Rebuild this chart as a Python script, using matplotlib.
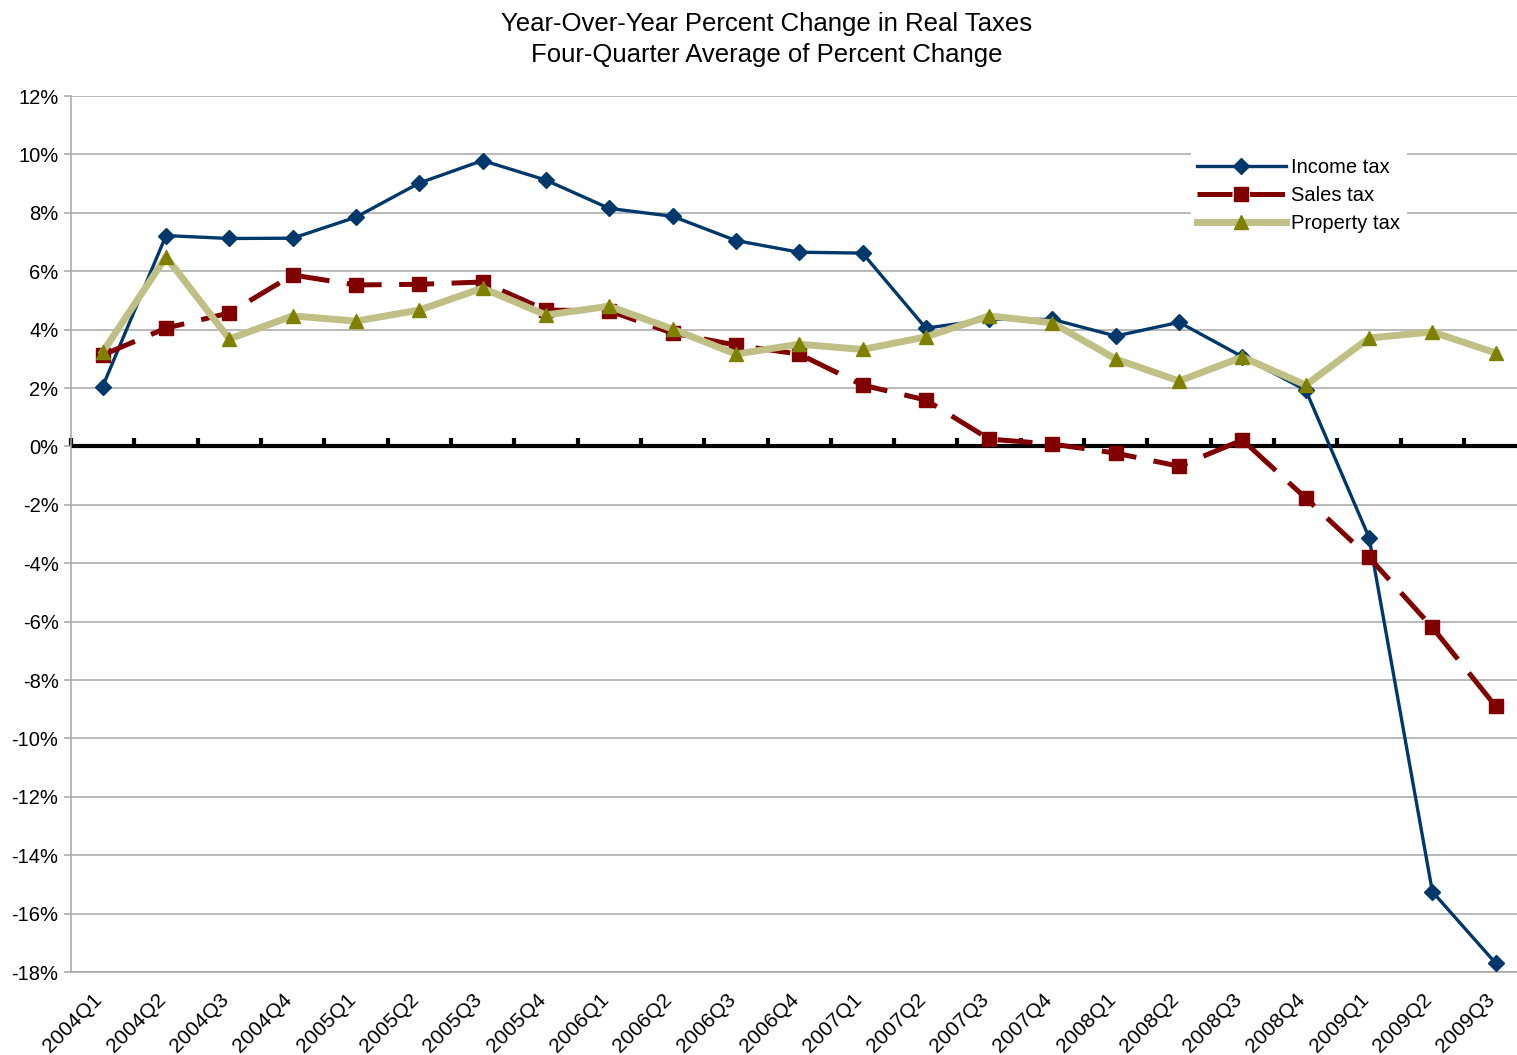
import numpy as np
import matplotlib.pyplot as plt
import matplotlib.transforms as mtransforms

plt.rcParams['font.family'] = ['Liberation Sans', 'DejaVu Sans']

# === DATA (percent) ===
quarters = ["2004Q1", "2004Q2", "2004Q3", "2004Q4",
            "2005Q1", "2005Q2", "2005Q3", "2005Q4",
            "2006Q1", "2006Q2", "2006Q3", "2006Q4",
            "2007Q1", "2007Q2", "2007Q3", "2007Q4",
            "2008Q1", "2008Q2", "2008Q3", "2008Q4",
            "2009Q1", "2009Q2", "2009Q3"]
income_tax = [2.05, 7.22, 7.12, 7.13, 7.85, 9.02, 9.79, 9.12, 8.15, 7.88, 7.05, 6.65,
              6.62, 4.05, 4.35, 4.35, 3.78, 4.25, 3.07, 1.93, -3.12, -15.25, -17.7]
sales_tax = [3.13, 4.05, 4.57, 5.87, 5.53, 5.55, 5.63, 4.67, 4.64, 3.88, 3.47, 3.16,
             2.1, 1.59, 0.25, 0.08, -0.23, -0.68, 0.22, -1.77, -3.8, -6.2, -8.9]
property_tax = [3.23, 6.49, 3.68, 4.47, 4.29, 4.67, 5.42, 4.5, 4.8, 4.02, 3.16, 3.5,
                3.32, 3.75, 4.47, 4.23, 2.99, 2.24, 3.06, 2.1, 3.71, 3.92, 3.2]

x = np.arange(len(quarters))

# === FIGURE ===
W, H = 1517, 1055
fig = plt.figure(figsize=(W / 100, H / 100), dpi=100)
ax = fig.add_axes([71 / W, 1 - 972 / H, 1 - 71 / W, (972 - 96) / H])

ax.plot(x, income_tax, color="#00386B", linewidth=2.4, marker="D", markersize=8,
        label="Income tax", zorder=3)
ax.plot(x, sales_tax, color="#800000", linewidth=3.6, dashes=(7, 3.5), marker="s",
        markersize=9.5, label="Sales tax", zorder=4)
ax.plot(x, property_tax, color="#C0C086", linewidth=5, marker="^", markersize=10,
        markerfacecolor="#808000", markeredgecolor="#808000", label="Property tax", zorder=5)

ax.axhline(0, color="black", linewidth=3, zorder=2.5)

# axes
ax.set_xlim(-0.5, -0.5 + (W - 71) / 63.32)
ax.set_ylim(-18, 12)
yt = np.arange(-18, 13, 2)
ax.set_yticks(yt)
ax.set_yticklabels([f"{v}%" for v in yt], fontsize=14.5)
ax.yaxis.grid(True, color="#A6A6A6", linewidth=1.1, zorder=0)
ax.set_axisbelow(True)
ax.tick_params(axis="y", length=5, width=1.1, color="#A6A6A6", pad=4)

ax.set_xticks(x)
ax.set_xticklabels(quarters, fontsize=15, rotation=45, ha="right", va="top",
                   rotation_mode="anchor")
ax.tick_params(axis="x", length=0, pad=13)
offset = mtransforms.ScaledTranslation(-10 / 100, 0, fig.dpi_scale_trans)
for lbl in ax.get_xticklabels():
    lbl.set_transform(lbl.get_transform() + offset)

for side in ["top", "right"]:
    ax.spines[side].set_visible(False)
ax.spines["left"].set_color("#A6A6A6")
ax.spines["left"].set_linewidth(1.1)
ax.spines["bottom"].set_color("#A6A6A6")
ax.spines["bottom"].set_linewidth(1.1)

# tick marks on the zero line, between categories
sec = ax.secondary_xaxis(18 / 30)
sec.set_xticks(np.arange(-0.5, len(quarters), 1), labels=[])
sec.tick_params(axis="x", direction="out", length=6, width=3, color="black",
                labelbottom=False)
sec.spines["bottom"].set_visible(False)

fig.suptitle("Year-Over-Year Percent Change in Real Taxes\nFour-Quarter Average of Percent Change",
             x=767 / W, y=1 - 12 / H, va="top", fontsize=18.5, linespacing=1.35)

leg = ax.legend(loc="upper left", bbox_to_anchor=(1191 / W, 1 - 152 / H),
                bbox_transform=fig.transFigure, frameon=True, fancybox=False,
                edgecolor="white", facecolor="white", framealpha=1, fontsize=14.5,
                handlelength=4.4, handletextpad=0.25, labelspacing=0.45,
                borderaxespad=0, borderpad=0.3)

fig.savefig("out.png", dpi=100)
